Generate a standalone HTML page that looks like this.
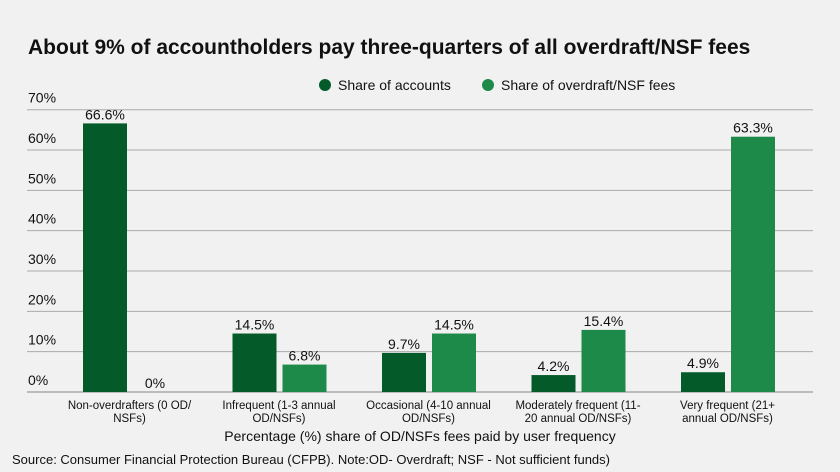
<!DOCTYPE html>
<html><head><meta charset="utf-8"><style>
body{margin:0;background:#f0f1f0;}
svg{display:block;font-family:"Liberation Sans",sans-serif;}
</style></head><body>
<svg id="c" width="840" height="472" viewBox="0 0 840 472" xmlns="http://www.w3.org/2000/svg">
<rect width="840" height="472" fill="#f0f1f0"/>
<text x="28" y="54" font-size="21" font-weight="bold" fill="#111">About 9% of accountholders pay three-quarters of all overdraft/NSF fees</text>
<g>
<circle cx="325" cy="85" r="6" fill="#055a2a"/>
<text x="338" y="90" font-size="14" fill="#111">Share of accounts</text>
<circle cx="488" cy="85" r="6" fill="#1e8a4a"/>
<text x="501" y="90" font-size="14" fill="#111">Share of overdraft/NSF fees</text>
</g>
<g id="grid"></g><g id="bars"></g><g id="xl"></g>
<text x="420" y="441" font-size="14" text-anchor="middle" fill="#111">Percentage (%) share of OD/NSFs fees paid by user frequency</text>
<text x="12" y="464" font-size="13" fill="#111">Source: Consumer Financial Protection Bureau (CFPB). Note:OD- Overdraft; NSF - Not sufficient funds)</text>
</svg>
<script>
const categories=[["Non-overdrafters (0 OD/","NSFs)"],["Infrequent (1-3 annual","OD/NSFs)"],["Occasional (4-10 annual","OD/NSFs)"],["Moderately frequent (11-","20 annual OD/NSFs)"],["Very frequent (21+","annual OD/NSFs)"]];
const accounts=[66.6,14.5,9.7,4.2,4.9];
const fees=[0,6.8,14.5,15.4,63.3];
const ticks=[0,10,20,30,40,50,60,70];
const NS="http://www.w3.org/2000/svg";
const y0=392,pxPer=(392-109.7)/70;
const y=v=>y0-v*pxPer;
const x0=83,step=149.5,bw=44,gap=5;
function mk(t,a,p){const e=document.createElementNS(NS,t);for(const k in a)e.setAttribute(k,a[k]);p.appendChild(e);return e;}
const g=document.getElementById('grid');
ticks.forEach(t=>{
 const l=mk('line',{x1:27,x2:813,y1:y(t),y2:y(t),stroke:t===0?'#888':'#aaa','stroke-width':1},g);
 
 
 const tx=mk('text',{x:28,y:y(t)-7,'font-size':14,fill:'#111'},g);tx.textContent=t+'%';
 
 
});
const b=document.getElementById('bars'),xl=document.getElementById('xl');
categories.forEach((c,i)=>{
 const xa=x0+i*step,xf=xa+bw+gap+1;
 [[accounts[i],xa,'#055a2a','accounts'],[fees[i],xf,'#1e8a4a','fees']].forEach(([v,x,col,s])=>{
  if(v>0){const r=mk('rect',{x:x,y:y(v),width:bw,height:y0-y(v),fill:col},b);
  
  }
  const t=mk('text',{x:x+bw/2,y:y(v)-4,'font-size':14,'text-anchor':'middle',fill:'#111'},b);
  t.textContent=v+'%';
  
  
 });
 const cx=xa+bw+gap/2;
 c.forEach((ln,j)=>{const t=mk('text',{x:cx,y:409+j*13,'font-size':11.5,'text-anchor':'middle',fill:'#111'},xl);t.textContent=ln;
 
 });
});
</script>
</body></html>
